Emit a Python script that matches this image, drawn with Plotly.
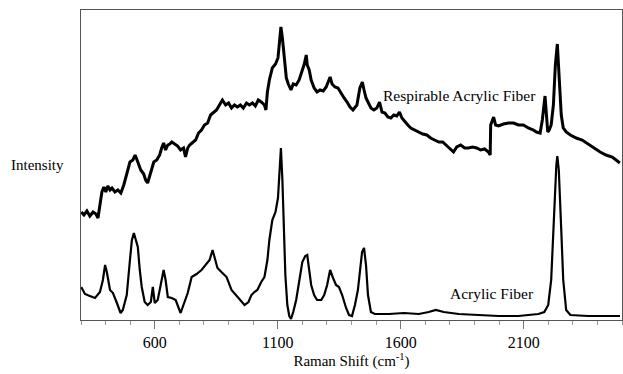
import plotly.graph_objects as go

# Acrylic Fiber (lower spectrum)
acr_w = [301, 316, 336, 357, 377, 389, 398, 405, 418, 430, 446, 461, 470, 486, 499, 507, 515, 523, 531, 539,
         547, 559, 571, 584, 592, 600, 612, 624, 636, 644, 653, 669, 685, 705, 717, 734, 750, 770, 790, 807,
         823, 835, 843, 855, 871, 892, 912, 932, 948, 965, 981, 993, 1005, 1017, 1033, 1046, 1058, 1066, 1078, 1091,
         1101, 1108, 1113, 1119, 1125, 1131, 1139, 1147, 1154, 1163, 1175, 1187, 1200, 1212, 1220, 1228, 1236, 1248, 1260, 1277,
         1289, 1301, 1313, 1325, 1337, 1349, 1362, 1378, 1390, 1402, 1414, 1426, 1434, 1443, 1451, 1459, 1467, 1479, 1495, 1552,
         1613, 1674, 1714, 1743, 1775, 1836, 1917, 1998, 2079, 2160, 2184, 2200, 2212, 2224, 2233, 2237, 2243, 2253, 2261, 2273,
         2290, 2362, 2423, 2492]
acr_i = [33, 26, 24, 22, 28, 40, 55, 48, 30, 27, 17, 7, 10, 25, 60, 80, 87, 80, 73, 50,
         33, 18, 15, 18, 33, 17, 20, 35, 50, 40, 23, 22, 20, 7, 15, 27, 43, 46, 50, 55,
         60, 70, 62, 52, 48, 43, 30, 24, 20, 15, 18, 25, 28, 30, 38, 43, 60, 80, 100, 108,
         122, 150, 172, 140, 90, 45, 15, 4, 1, 8, 20, 40, 58, 64, 65, 50, 35, 25, 20, 20,
         25, 35, 50, 42, 35, 33, 25, 12, 5, 4, 15, 30, 50, 68, 72, 55, 25, 8, 6, 6,
         7, 6, 8, 10, 8, 6, 5, 4, 4, 6, 8, 15, 40, 110, 155, 164, 150, 90, 40, 10,
         5, 4, 4, 4]

# Respirable Acrylic Fiber (upper spectrum)
resp_w = [301, 312, 324, 336, 349, 361, 369, 377, 385, 393, 401, 409, 418, 426, 438, 450, 462, 474, 486, 499,
          511, 520, 531, 543, 555, 563, 571, 580, 588, 596, 608, 620, 628, 636, 644, 653, 661, 669, 681, 693,
          705, 717, 725, 734, 742, 754, 766, 778, 790, 802, 815, 827, 839, 851, 863, 875, 888, 900, 912, 924,
          936, 948, 960, 973, 985, 997, 1009, 1021, 1033, 1046, 1052, 1058, 1066, 1078, 1091, 1101, 1108, 1113, 1119, 1127,
          1135, 1143, 1154, 1163, 1175, 1187, 1200, 1208, 1216, 1220, 1228, 1236, 1248, 1260, 1272, 1285, 1297, 1305, 1313, 1321,
          1333, 1345, 1358, 1370, 1382, 1394, 1406, 1414, 1422, 1434, 1444, 1451, 1459, 1467, 1479, 1491, 1503, 1514, 1524, 1536,
          1548, 1560, 1572, 1584, 1595, 1605, 1617, 1629, 1641, 1657, 1674, 1690, 1706, 1722, 1738, 1755, 1771, 1787, 1803, 1815,
          1828, 1844, 1860, 1876, 1892, 1909, 1925, 1941, 1957, 1964, 1966, 1978, 1986, 1998, 2018, 2038, 2059, 2079, 2099, 2119,
          2140, 2152, 2167, 2176, 2187, 2192, 2198, 2204, 2212, 2221, 2229, 2237, 2245, 2253, 2261, 2273, 2290, 2314, 2338, 2362,
          2387, 2411, 2435, 2460, 2476, 2491]
resp_i = [108, 105, 109, 104, 108, 106, 102, 115, 128, 133, 128, 134, 130, 132, 128, 130, 127, 135, 147, 158,
          160, 165, 158, 150, 146, 140, 137, 145, 152, 158, 160, 165, 172, 177, 170, 175, 176, 178, 176, 174,
          170, 172, 163, 172, 175, 178, 180, 187, 190, 195, 197, 205, 208, 210, 215, 220, 215, 217, 212, 215,
          213, 215, 212, 217, 215, 217, 214, 220, 218, 215, 210, 228, 240, 252, 256, 262, 280, 293, 282, 260,
          242, 236, 230, 236, 235, 240, 250, 256, 265, 255, 250, 240, 232, 228, 230, 229, 233, 238, 243, 236,
          233, 232, 226, 222, 218, 213, 210, 213, 215, 232, 238, 230, 222, 218, 212, 210, 212, 218, 208, 207,
          203, 202, 205, 204, 208, 202, 198, 195, 192, 190, 188, 186, 185, 182, 180, 178, 178, 174, 171, 168,
          173, 175, 172, 172, 173, 172, 170, 171, 168, 165, 195, 203, 195, 194, 196, 197, 197, 195, 195, 192,
          190, 188, 187, 200, 224, 210, 188, 190, 195, 215, 255, 276, 245, 205, 192, 188, 185, 182, 180, 176,
          172, 168, 165, 163, 160, 157]

FONT = "Liberation Serif, Times New Roman, serif"

fig = go.Figure()
fig.add_trace(go.Scatter(x=resp_w, y=resp_i, mode="lines",
                         line=dict(color="black", width=3), showlegend=False))
fig.add_trace(go.Scatter(x=acr_w, y=acr_i, mode="lines",
                         line=dict(color="black", width=2.2), showlegend=False))

fig.update_layout(
    width=623, height=374,
    margin=dict(l=81, r=1, t=10, b=54),
    paper_bgcolor="white", plot_bgcolor="white",
    font=dict(family=FONT, size=15, color="black"),
    xaxis=dict(range=[300, 2500], tick0=600, dtick=500, ticks="outside", ticklen=8,
               tickcolor="#777", tickwidth=1,
               tickfont=dict(family=FONT, size=16),
               minor=dict(dtick=100, ticks="outside", ticklen=4, tickcolor="#999"),
               showline=True, linecolor="#555", linewidth=1, mirror=True,
               showgrid=False, zeroline=False,
               title=dict(text="Raman Shift (cm<sup>-1</sup>)", standoff=4,
                          font=dict(family=FONT, size=15))),
    yaxis=dict(range=[0, 310], showticklabels=False, ticks="",
               showline=True, linecolor="#555", linewidth=1, mirror=True,
               showgrid=False, zeroline=False),
    annotations=[
        dict(x=1838, y=225, xref="x", yref="y", text="Respirable Acrylic Fiber",
             showarrow=False, xanchor="center", yanchor="middle",
             font=dict(family=FONT, size=15.5)),
        dict(x=1970, y=27, xref="x", yref="y", text="Acrylic Fiber",
             showarrow=False, xanchor="center", yanchor="middle",
             font=dict(family=FONT, size=15.5)),
        dict(x=-0.0813, y=0.5, xref="paper", yref="paper", text="Intensity",
             showarrow=False, xanchor="center", yanchor="middle",
             font=dict(family=FONT, size=15)),
    ],
)

fig.write_html("out.html")
